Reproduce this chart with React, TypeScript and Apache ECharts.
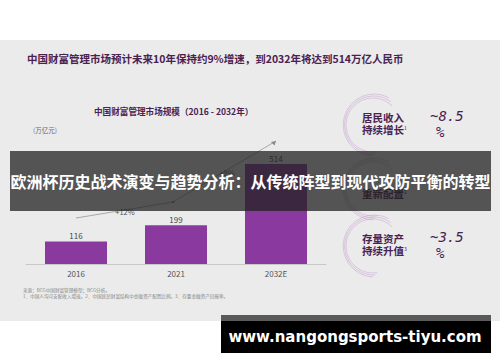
import React, { useEffect, useRef } from "react";
import * as echarts from "echarts";

const categories = ["2016", "2021", "2032E"];
const marketSize = [116, 199, 514];
const growthLabels = ["+12%", "+9%"];
const drivers = [
  { l1: "居民收入", l2: "持续增长", sup: "1", v1: "~8.5", v2: "%" },
  { l1: "", l2: "重新配置", sup: "2", v1: "", v2: "" },
  { l1: "存量资产", l2: "持续升值", sup: "3", v1: "~3.5", v2: "%" },
];

const PURPLE = "#8a3a9f";
const DARK = "#4a2250";
const CJK = "'Noto Sans CJK SC', 'Noto Sans', sans-serif";

export default function App() {
  const ref = useRef<HTMLDivElement>(null);
  useEffect(() => {
    if (!ref.current) return;
    const chart = echarts.init(ref.current, null, { renderer: "svg" });
    const g: any[] = [];
    g.push({ type: "rect", z: -10, shape: { x: 0, y: 40, width: 500, height: 281 }, style: { fill: "#ebebeb" } });
    g.push({ type: "text", x: 27, y: 58, style: { text: "中国财富管理市场预计未来10年保持约9%增速，到2032年将达到514万亿人民币", font: `bold 10.5px ${CJK}`, fill: DARK, verticalAlign: "middle" } });
    g.push({ type: "text", x: 94, y: 111, style: { text: "中国财富管理市场规模（2016 - 2032年）", font: `bold 8.6px ${CJK}`, fill: DARK, verticalAlign: "middle" } });
    g.push({ type: "text", x: 33, y: 130, style: { text: "(万亿元)", font: `6.5px ${CJK}`, fill: "#666", verticalAlign: "middle" } });
    // trend arrow
    g.push({ type: "polyline", shape: { points: [[76, 218], [173, 202], [276, 141]] }, style: { stroke: "#8a8a8a", lineWidth: 0.7, fill: "none" } });
    g.push({ type: "polygon", shape: { points: [[276, 141], [271, 142], [274.5, 145.5]] }, style: { fill: "#8a8a8a" } });
    g.push({ type: "circle", shape: { cx: 173, cy: 202, r: 1 }, style: { fill: "#777" } });
    g.push({ type: "text", x: 125, y: 211, style: { text: growthLabels[0], font: `7.5px ${CJK}`, fill: "#555", align: "center", verticalAlign: "middle" } });
    g.push({ type: "text", x: 227, y: 172, style: { text: growthLabels[1], font: `7.5px ${CJK}`, fill: "#555", align: "center", verticalAlign: "middle" } });
    // footnotes
    g.push({ type: "text", x: 23, y: 289.5, style: { text: "来源：BCG中国财富管理模型；BCG分析。", font: `4.6px ${CJK}`, fill: "#888", verticalAlign: "middle" } });
    g.push({ type: "text", x: 23, y: 296, style: { text: "1．中国人均可支配收入增速。2．中国居民财富结构中金融资产配置比例。3．存量金融资产回报率。", font: `4.6px ${CJK}`, fill: "#888", verticalAlign: "middle" } });
    // drivers
    const cys = [125, 189, 246];
    drivers.forEach((d, i) => {
      const cy = cys[i];
      [27, 29, 31].forEach((r, k) => {
        g.push({ type: "arc", shape: { cx: 373 + k * 0.6, cy, r, startAngle: Math.PI * 0.45 + k * 0.1, endAngle: Math.PI * 1.75 - k * 0.15 }, style: { stroke: "#c9a9d2", lineWidth: 0.6, fill: "none" } });
      });
      if (d.l1) g.push({ type: "text", x: 362, y: cy - 8, style: { text: d.l1, font: `bold 10.5px ${CJK}`, fill: DARK, verticalAlign: "middle" } });
      g.push({ type: "text", x: 362, y: cy + 4.5, style: { text: d.l2, font: `bold 10.5px ${CJK}`, fill: DARK, verticalAlign: "middle" } });
      g.push({ type: "text", x: 404, y: cy + 2, style: { text: d.sup, font: `5px ${CJK}`, fill: DARK, verticalAlign: "middle" } });
      if (d.v1) {
        g.push({ type: "text", x: 430, y: cy - 9, style: { text: d.v1, font: `italic 14px 'DejaVu Sans Mono', monospace`, fill: DARK, verticalAlign: "middle" } });
        g.push({ type: "text", x: 436, y: cy + 7, style: { text: d.v2, font: `italic 14px 'DejaVu Sans Mono', monospace`, fill: DARK, verticalAlign: "middle" } });
      }
    });
    // banner overlay
    g.push({ type: "rect", z: 100, shape: { x: 10, y: 151, width: 481, height: 60 }, style: { fill: "rgba(33,33,33,0.75)" } });
    g.push({ type: "text", z: 101, x: 250.5, y: 181, style: { text: "欧洲杯历史战术演变与趋势分析：从传统阵型到现代攻防平衡的转型", font: `bold 16px ${CJK}`, fill: "#ffffff", align: "center", verticalAlign: "middle" } });
    // watermark
    g.push({ type: "rect", z: 100, shape: { x: 221, y: 315, width: 270, height: 6 }, style: { fill: "#5a5a5a" } });
    g.push({ type: "rect", z: 100, shape: { x: 221, y: 321, width: 270, height: 32 }, style: { fill: "#000000" } });
    g.push({ type: "text", z: 101, x: 355, y: 337, style: { text: "www.nangongsports-tiyu.com", font: `bold 15px 'DejaVu Sans', sans-serif`, fill: "#ffffff", align: "center", verticalAlign: "middle" } });

    chart.setOption({
      animation: false,
      backgroundColor: "#ffffff",
      grid: { left: 26, right: 174, top: 164, bottom: 98 },
      xAxis: {
        type: "category",
        data: categories,
        axisLine: { lineStyle: { color: "#c8c8c8", width: 1 } },
        axisTick: { show: false },
        axisLabel: { color: "#555", fontSize: 8, fontFamily: CJK, margin: 5 },
      },
      yAxis: { type: "value", min: 0, max: 514, show: false, splitLine: { show: false } },
      series: [
        {
          type: "bar",
          data: marketSize,
          barWidth: 62,
          itemStyle: { color: PURPLE },
          label: { show: true, position: "top", distance: 2, color: "#444", fontSize: 8, fontFamily: CJK },
          z: 2,
        },
      ],
      graphic: g,
    });
    return () => chart.dispose();
  }, []);
  return <div ref={ref} style={{ position: "fixed", left: 0, top: 0, width: 500, height: 362 }} />;
}
